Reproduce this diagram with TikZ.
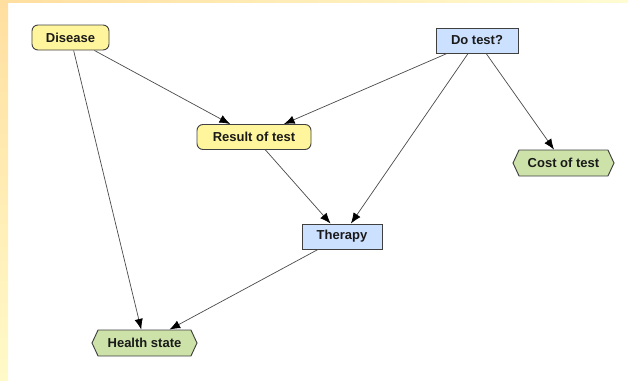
\documentclass[tikz,border=0pt]{standalone}
\usepackage{fontspec}
\setmainfont{Liberation Sans}
\usetikzlibrary{arrows.meta,shapes.symbols}
\definecolor{netink}{HTML}{404040}
\definecolor{netedge}{HTML}{4A4A4A}
\definecolor{netlabel}{HTML}{1A1A1A}
\definecolor{chancefill}{HTML}{FFF59C}
\definecolor{decisionfill}{HTML}{CCE0FF}
\definecolor{utilityfill}{HTML}{CCE2A8}
\definecolor{slidestriptop}{HTML}{FFDFA0}
\definecolor{slidestriplow}{HTML}{FFFAC8}
\definecolor{slidestripend}{HTML}{FFFCD2}
\tikzset{
  netnode/.style={draw=netink,line width=0.8pt,text=netlabel,inner ysep=0pt,
    minimum height=0.75cm,font=\fontsize{11.1}{12}\selectfont\bfseries},
  chancenode/.style={netnode,fill=chancefill,rounded corners=0.18cm},
  decisionnode/.style={netnode,fill=decisionfill},
  utilitynode/.style={netnode,fill=utilityfill,minimum height=0.78cm,
    signal,signal to=east and west,signal pointer angle=130},
  netarrow/.style={draw=netedge,line width=0.6pt,
    -{Latex[length=0.32cm,width=0.25cm,color=black]}},
}

\begin{document}
\begin{tikzpicture}[x=0.03cm,y=-0.03cm]
        \path[use as bounding box] (0,0) rectangle (628,380);
        \shade[top color=slidestriptop,bottom color=slidestriplow] (0,0) rectangle (8,380);
        \shade[left color=slidestriptop,right color=slidestripend] (8,0) rectangle (628,2.5);
        % chance, decision and utility nodes
        \node[chancenode,minimum width=2.31cm] (dis) at (70.5,37.5) {Disease};
        \node[chancenode,minimum width=3.42cm] (res) at (254,137) {Result of test};
        \node[decisionnode,minimum width=2.46cm] (dot) at (477,40.5) {Do test?};
        \node[decisionnode,minimum width=2.4cm] (the) at (342,236.5) {Therapy};
        \node[utilitynode,minimum width=3.03cm] (cos) at (563.5,163) {Cost of test};
        \node[utilitynode,minimum width=3.15cm] (hea) at (144.5,343) {Health state};
        \foreach \a/\b in {dis/res,dis/hea,dot/res,dot/the,dot/cos,res/the,the/hea}
          {\draw[netarrow] (\a) -- (\b);}
      \end{tikzpicture}
\end{document}
